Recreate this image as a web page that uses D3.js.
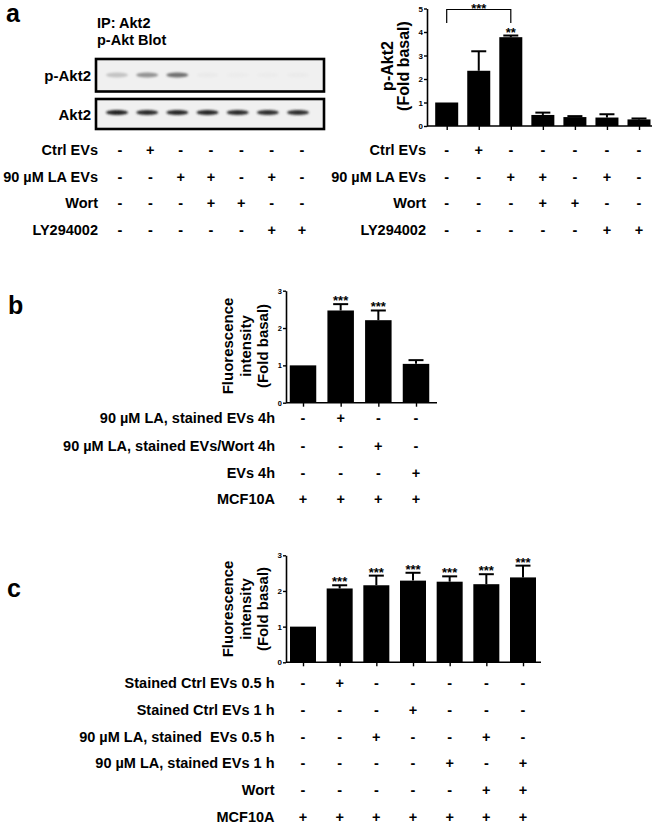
<!DOCTYPE html>
<html><head><meta charset="utf-8">
<script src="https://cdn.jsdelivr.net/npm/d3@7/dist/d3.min.js"></script>
<style>
body{margin:0;background:#fff;}
svg text{font-family:"Liberation Sans",Arial,sans-serif;font-weight:bold;fill:#000;white-space:pre;}
</style></head>
<body><svg id="fig" width="657" height="824"></svg>
<script>
// ---------------- DATA ----------------
// Panel a – blot
const blotLanes = ["1","2","3","4","5","6","7"];
const pAkt2BandIntensity = [0.2, 0.42, 0.58, 0.02, 0.01, 0.01, 0.015];
const akt2BandIntensity  = [0.95, 0.9, 0.92, 0.92, 0.9, 0.88, 0.88];
// Panel a – bar chart
const aCategories = ["1","2","3","4","5","6","7"];
const aValues = [1.0, 2.35, 3.78, 0.47, 0.38, 0.36, 0.28];
const aSem    = [0.0, 0.83, 0.07, 0.10, 0.04, 0.14, 0.04];
const aStars  = ["", "", "**", "", "", "", ""];
const aTicks  = [0, 1, 2, 3, 4, 5];
const aRowLabels = ["Ctrl EVs", "90 µM LA EVs", "Wort", "LY294002"];
const aSigns = [
  ["-","+","-","-","-","-","-"],
  ["-","-","+","+","-","+","-"],
  ["-","-","-","+","+","-","-"],
  ["-","-","-","-","-","+","+"]
];
// Panel b
const bCategories = ["1","2","3","4"];
const bValues = [1.0, 2.47, 2.21, 1.04];
const bSem    = [0.0, 0.17, 0.26, 0.10];
const bStars  = ["", "***", "***", ""];
const bTicks  = [0, 1, 2, 3];
const bRowLabels = ["90 µM LA, stained EVs 4h", "90 µM LA, stained EVs/Wort 4h", "EVs 4h", "MCF10A"];
const bSigns = [
  ["-","+","-","-"],
  ["-","-","+","-"],
  ["-","-","-","+"],
  ["+","+","+","+"]
];
// Panel c
const cCategories = ["1","2","3","4","5","6","7"];
const cValues = [1.0, 2.07, 2.16, 2.29, 2.26, 2.19, 2.38];
const cSem    = [0.0, 0.09, 0.27, 0.22, 0.15, 0.28, 0.33];
const cStars  = ["", "***", "***", "***", "***", "***", "***"];
const cTicks  = [0, 1, 2, 3];
const cRowLabels = ["Stained Ctrl EVs 0.5 h", "Stained Ctrl EVs 1 h", "90 µM LA, stained  EVs 0.5 h", "90 µM LA, stained EVs 1 h", "Wort", "MCF10A"];
const cSigns = [
  ["-","+","-","-","-","-","-"],
  ["-","-","-","+","-","-","-"],
  ["-","-","+","-","-","+","-"],
  ["-","-","-","-","+","-","+"],
  ["-","-","-","-","-","+","+"],
  ["+","+","+","+","+","+","+"]
];

// ---------------- DRAW ----------------
const svg = d3.select("#fig");
svg.append("rect").attr("width",657).attr("height",824).attr("fill","#fff");
const defs = svg.append("defs");
defs.append("filter").attr("id","blur").attr("x","-50%").attr("y","-100%").attr("width","200%").attr("height","300%")
  .append("feGaussianBlur").attr("stdDeviation", 1.3);

function panelLetter(t, x, y){
  svg.append("text").attr("x",x).attr("y",y).attr("font-size",25).text(t);
}

function barChart(o){
  const g = svg.append("g");
  const y = d3.scaleLinear().domain([0, o.yMax]).range([o.yBottom, o.yTop]);
  const x = d3.scalePoint().domain(o.cats).range(o.xRange);
  g.selectAll("rect.bar").data(o.values).join("rect")
    .attr("x",(d,i)=>x(o.cats[i]) - o.barW/2)
    .attr("y",d=>y(d)).attr("width",o.barW)
    .attr("height",d=>y(0)-y(d)).attr("fill","#000");
  const eb = g.selectAll("g.err").data(o.values.map((v,i)=>({v, s:o.sem[i], c:o.cats[i]})).filter(d=>d.s>0)).join("g");
  eb.append("line").attr("x1",d=>x(d.c)).attr("x2",d=>x(d.c)).attr("y1",d=>y(d.v)).attr("y2",d=>y(d.v+d.s))
    .attr("stroke","#000").attr("stroke-width",2);
  eb.append("line").attr("x1",d=>x(d.c)-o.capW/2).attr("x2",d=>x(d.c)+o.capW/2)
    .attr("y1",d=>y(d.v+d.s)).attr("y2",d=>y(d.v+d.s)).attr("stroke","#000").attr("stroke-width",2);
  g.selectAll("text.star").data(o.values.map((v,i)=>({v, s:o.sem[i], c:o.cats[i], t:o.stars[i]})).filter(d=>d.t)).join("text")
    .attr("x",d=>x(d.c)).attr("y",d=>y(d.v+d.s)+1).attr("text-anchor","middle")
    .attr("font-size",13).text(d=>d.t);
  const ya = g.append("g").attr("transform",`translate(${o.axisLeft},0)`)
    .call(d3.axisLeft(y).tickValues(o.ticks).tickSize(3).tickSizeOuter(0).tickPadding(1).tickFormat(d3.format("d")));
  ya.select(".domain").attr("stroke-width",1.6);
  ya.selectAll(".tick line").attr("stroke-width",1.4);
  ya.selectAll(".tick text").attr("font-size",o.tickFont).style("font-family","'Liberation Sans',Arial,sans-serif").style("font-weight","bold");
  const xa = g.append("g").attr("transform",`translate(0,${o.yBottom})`)
    .call(d3.axisBottom(x).tickSize(4).tickSizeOuter(0).tickFormat(()=>""));
  xa.select(".domain").attr("d",`M${o.axisLeft},0H${o.axisRight}`).attr("stroke-width",1.6);
  xa.selectAll(".tick line").attr("stroke-width",1.4);
  const lg = g.append("g").attr("transform",`translate(0,${o.labelCY})`);
  o.labelLines.forEach((t,i)=>{
    lg.append("text").attr("transform",`translate(${o.labelXs[i]},0) rotate(-90)`)
      .attr("text-anchor","middle").attr("dominant-baseline","central")
      .attr("font-size",o.labelFont).text(t);
  });
  return {x, y};
}

function signTable(rows, signs, xScale, cats, labelRight, rowYs){
  const g = svg.append("g");
  rows.forEach((r,i)=>{
    g.append("text").attr("x",labelRight).attr("y",rowYs[i]).attr("text-anchor","end")
      .attr("dominant-baseline","central").attr("font-size",14.5).text(r);
    g.selectAll(null).data(signs[i]).join("text")
      .attr("x",(d,j)=>xScale(cats[j])).attr("y",rowYs[i]).attr("text-anchor","middle")
      .attr("dominant-baseline","central").attr("font-size",14.5).text(d=>d);
  });
}

// ---- Panel a ----
panelLetter("a", 6, 22);
svg.append("text").attr("x",97).attr("y",28).attr("font-size",14.5).text("IP: Akt2");
svg.append("text").attr("x",97).attr("y",45).attr("font-size",14.5).text("p-Akt Blot");

const lane = d3.scalePoint().domain(blotLanes).range([117, 298]);
const bandColor = d3.interpolateRgb("#eeeeee", "#151515");
function blotBox(y0, y1, label, intens, bandY, bandRx, bandRy){
  svg.append("rect").attr("x",96).attr("y",y0).attr("width",228).attr("height",y1-y0)
    .attr("fill","#f0f0f0").attr("stroke","#000").attr("stroke-width",2.6);
  svg.append("g").attr("filter","url(#blur)").selectAll("ellipse").data(intens).join("ellipse")
    .attr("cx",(d,i)=>lane(blotLanes[i])).attr("cy",bandY).attr("rx",bandRx).attr("ry",bandRy)
    .attr("fill",d=>bandColor(d));
  svg.append("text").attr("x",91).attr("y",(y0+y1)/2).attr("text-anchor","end")
    .attr("dominant-baseline","central").attr("font-size",15).text(label);
}
blotBox(59, 91.5, "p-Akt2", pAkt2BandIntensity, 75, 11, 2.4);
blotBox(99, 129, "Akt2", akt2BandIntensity, 112.5, 11, 2.6);

const aRowYs = [150, 176.7, 203.3, 230];
const aLeftCols = d3.scalePoint().domain(aCategories).range([120, 302]);
signTable(aRowLabels, aSigns, aLeftCols, aCategories, 98, aRowYs);

const aChart = barChart({cats:aCategories, values:aValues, sem:aSem, stars:aStars, yMax:5,
  yTop:8.5, yBottom:126, xRange:[446.7, 639], axisLeft:427, axisRight:652, barW:23, capW:15,
  ticks:aTicks, tickFont:8, labelLines:["p-Akt2","(Fold basal)"], labelXs:[387.5,403.5], labelCY:66, labelFont:16});
{
  const x1 = aChart.x(aCategories[0]), x2 = aChart.x(aCategories[2]);
  svg.append("path").attr("d",`M${x1},23V9.5H${x2}V23`).attr("fill","none").attr("stroke","#000").attr("stroke-width",1.2);
  svg.append("text").attr("x",(x1+x2)/2).attr("y",12.5).attr("text-anchor","middle").attr("font-size",13).text("***");
}
signTable(aRowLabels, aSigns, aChart.x, aCategories, 426, aRowYs);

// ---- Panel b ----
panelLetter("b", 8, 314);
const bChart = barChart({cats:bCategories, values:bValues, sem:bSem, stars:bStars, yMax:3,
  yTop:290.7, yBottom:402.7, xRange:[303, 416], axisLeft:286, axisRight:437, barW:26.5, capW:15,
  ticks:bTicks, tickFont:7.5, labelLines:["Fluorescence","intensity","(Fold basal)"], labelXs:[227.5,245,262], labelCY:346, labelFont:15});
signTable(bRowLabels, bSigns, bChart.x, bCategories, 275, [418.3, 445.7, 472.7, 499.3]);

// ---- Panel c ----
panelLetter("c", 7, 597);
const cChart = barChart({cats:cCategories, values:cValues, sem:cSem, stars:cStars, yMax:3,
  yTop:555.3, yBottom:662.3, xRange:[303, 523], axisLeft:286, axisRight:541, barW:26, capW:15,
  ticks:cTicks, tickFont:8, labelLines:["Fluorescence","intensity","(Fold basal)"], labelXs:[227.5,245,262], labelCY:609, labelFont:15});
signTable(cRowLabels, cSigns, cChart.x, cCategories, 274.5, [683.3, 710, 736.7, 763.3, 790, 817]);
</script></body></html>
